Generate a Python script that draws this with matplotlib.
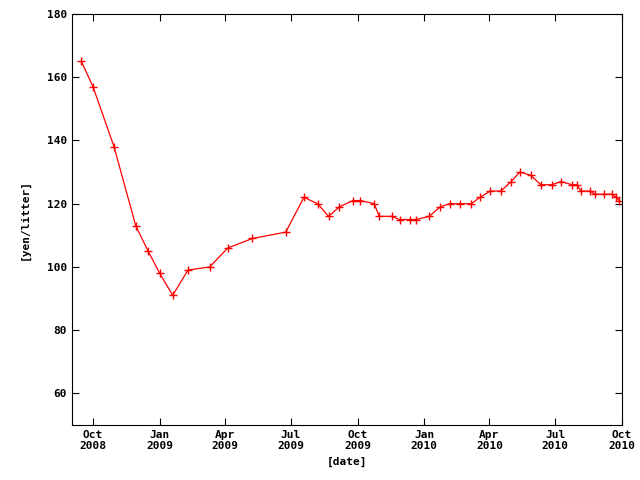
import matplotlib
matplotlib.use("Agg")
import matplotlib.pyplot as plt
import pandas as pd

dates = ["2008-09-15","2008-10-01","2008-10-30","2008-11-29","2008-12-16","2009-01-01",
         "2009-01-19","2009-02-09","2009-03-11","2009-04-05","2009-05-09","2009-06-24",
         "2009-07-19","2009-08-07","2009-08-22","2009-09-06","2009-09-25","2009-10-05",
         "2009-10-24","2009-10-31","2009-11-17","2009-11-28","2009-12-12","2009-12-21",
         "2010-01-08","2010-01-23","2010-02-05","2010-02-20","2010-03-07","2010-03-19",
         "2010-04-02","2010-04-17","2010-05-01","2010-05-13","2010-05-28","2010-06-11",
         "2010-06-26","2010-07-09","2010-07-24","2010-07-31","2010-08-05","2010-08-18",
         "2010-08-25","2010-09-06","2010-09-17","2010-09-23","2010-09-27"]
prices = [165,157,138,113,105,98,91,99,100,106,109,111,122,120,116,119,121,121,120,116,
          116,115,115,115,116,119,120,120,120,122,124,124,127,130,129,126,126,127,126,126,
          124,124,123,123,123,122,121]
tick_dates = ["2008-10-01","2009-01-01","2009-04-01","2009-07-01","2009-10-01",
              "2010-01-01","2010-04-01","2010-07-01","2010-10-01"]
tick_labels = ["Oct\n2008","Jan\n2009","Apr\n2009","Jul\n2009","Oct\n2009",
               "Jan\n2010","Apr\n2010","Jul\n2010","Oct\n2010"]

plt.rcParams['font.family'] = 'DejaVu Sans Mono'
plt.rcParams['font.weight'] = 'bold'
plt.rcParams['font.size'] = 8

fig = plt.figure(figsize=(6.4, 4.8), dpi=100)
ax = fig.add_axes([72/640, 55/480, 550/640, 411/480])
x = pd.to_datetime(dates)
ax.plot(x, prices, color='red', lw=0.9, marker='+', ms=6, mew=1)
ax.set_xlim(pd.Timestamp("2008-09-02"), pd.Timestamp("2010-10-01"))
ax.set_ylim(50, 180)
ax.set_yticks(range(60, 181, 20))
ax.set_xticks(pd.to_datetime(tick_dates))
ax.set_xticklabels(tick_labels)
ax.tick_params(direction='in', length=5, top=True, right=True)
ax.set_xlabel("[date]", fontweight='bold')
ax.set_ylabel("[yen/litter]", fontweight='bold', labelpad=12)
fig.savefig("out.png")
